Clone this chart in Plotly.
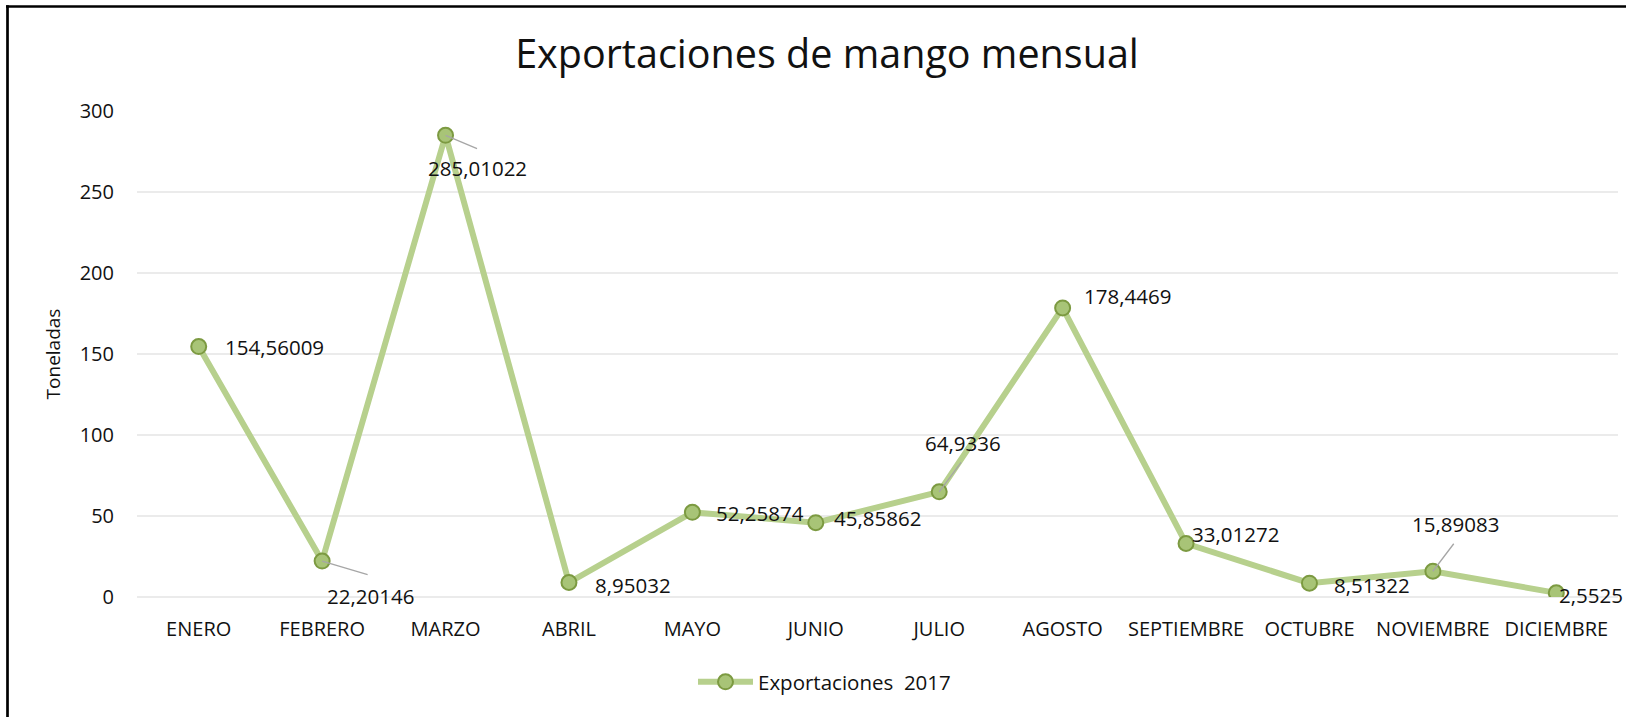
import plotly.graph_objects as go

# ---- data ----
months = ["ENERO", "FEBRERO", "MARZO", "ABRIL", "MAYO", "JUNIO", "JULIO",
          "AGOSTO", "SEPTIEMBRE", "OCTUBRE", "NOVIEMBRE", "DICIEMBRE"]
exports_2017 = [154.56009, 22.20146, 285.01022, 8.95032, 52.25874, 45.85862,
                64.9336, 178.4469, 33.01272, 8.51322, 15.89083, 2.5525]
y_ticks = [0, 50, 100, 150, 200, 250, 300]
series_name = "Exportaciones\u00a0\u00a02017"
title_text = "Exportaciones de mango mensual"
y_title = "Toneladas"

# ---- label placement (pixel offsets: xshift, yshift, anchor, leader ax, ay) ----
label_style = [
    (24, 0, "left", None),
    (48, -35, "center", (47, 14)),
    (32, -33, "center", (33, 14)),
    (24, -2, "left", None),
    (22, -1, "left", None),
    (16, 5, "left", None),
    (24, 49, "center", (23, -31)),
    (19, 12, "left", None),
    (4, 10, "left", None),
    (23, -2, "left", None),
    (23, 47, "center", (22, -29)),
    (1, -2, "left", None),
]

FONT = "Open Sans"
TXT = "#111111"
LINE_C = "#B7D08D"
MARK_C = "#A8C477"
MARK_B = "#7C9A41"

fig = go.Figure()
fig.add_trace(go.Scatter(
    x=months, y=exports_2017, mode="lines+markers", name=series_name,
    line=dict(color=LINE_C, width=6),
    marker=dict(size=15, color=MARK_C, line=dict(color=MARK_B, width=2)),
))

annotations = []
for m, v, (dx, dy, anc, leader) in zip(months, exports_2017, label_style):
    if leader is not None:
        annotations.append(dict(
            x=m, y=v, xref="x", yref="y", text="", showarrow=True,
            arrowhead=0, arrowwidth=1.3, arrowcolor="#A6A6A6",
            ax=leader[0], ay=leader[1], standoff=0, startstandoff=0))
    annotations.append(dict(
        x=m, y=v, xref="x", yref="y", text=f"{v}".replace(".", ","),
        showarrow=False, xanchor=anc, yanchor="middle",
        xshift=dx, yshift=dy, font=dict(family=FONT, size=20.5, color=TXT)))

# plot area geometry (pixels)
W, H = 1626, 717
L, R, T, B = 137, 8, 111, 120
pw, ph = W - L - R, H - T - B

def px_x(px):
    return (px - L) / pw

def px_y(py):
    return (H - B - py) / ph

border = dict(color="black", width=2.7)
fig.update_layout(
    width=W, height=H,
    margin=dict(l=L, r=R, t=T, b=B),
    paper_bgcolor="white", plot_bgcolor="white",
    font=dict(family=FONT, size=20, color=TXT),
    title=dict(text=title_text, xref="container", yref="container",
               x=827 / W, y=1 - 54 / H, xanchor="center", yanchor="middle",
               font=dict(family=FONT, size=39.5, color=TXT)),
    showlegend=True,
    legend=dict(orientation="h", x=px_x(693), y=px_y(682),
                xanchor="left", yanchor="middle", itemwidth=55,
                font=dict(family=FONT, size=20.5, color=TXT),
                bgcolor="rgba(0,0,0,0)"),
    annotations=annotations,
    shapes=[
        dict(type="line", xref="paper", yref="paper",
             x0=px_x(7.5), x1=px_x(7.5), y0=px_y(717), y1=px_y(5.2),
             line=border, layer="above"),
        dict(type="line", xref="paper", yref="paper",
             x0=px_x(6), x1=px_x(1626), y0=px_y(6.5), y1=px_y(6.5),
             line=border, layer="above"),
    ],
)

fig.update_xaxes(
    type="category", range=[-0.5, len(months) - 0.5],
    showgrid=False, showline=False, zeroline=False,
    ticks="", ticklabelstandoff=18,
    tickfont=dict(family=FONT, size=20, color=TXT),
)
fig.update_yaxes(
    range=[0, 300], tickvals=y_ticks, showgrid=True, gridcolor="#EBEBEB",
    gridwidth=1.5, zeroline=True, zerolinecolor="#EBEBEB", zerolinewidth=1.5,
    showline=False, ticks="", ticklabelstandoff=22,
    tickfont=dict(family=FONT, size=20, color=TXT),
    title=dict(text=y_title, standoff=14, font=dict(family=FONT, size=19, color=TXT)),
)

fig.write_html("out.html")
